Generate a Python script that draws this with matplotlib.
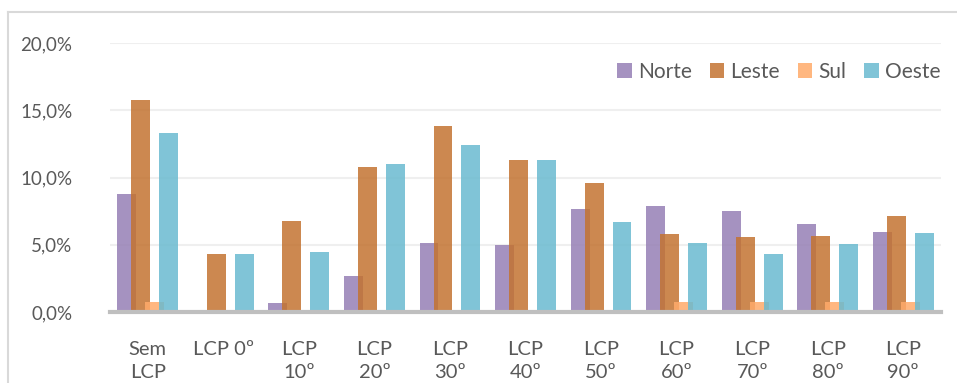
import numpy as np
import matplotlib.pyplot as plt
from matplotlib.lines import Line2D
from matplotlib.ticker import FuncFormatter

plt.rcParams['font.family'] = ['Lato', 'DejaVu Sans']

categorias = ['Sem\nLCP', 'LCP 0º', 'LCP\n10º', 'LCP\n20º', 'LCP\n30º', 'LCP\n40º',
              'LCP\n50º', 'LCP\n60º', 'LCP\n70º', 'LCP\n80º', 'LCP\n90º']
norte = [8.75, 0.0, 0.70, 2.70, 5.10, 5.00, 7.64, 7.90, 7.53, 6.55, 5.98]
leste = [15.75, 4.32, 6.79, 10.80, 13.81, 11.27, 9.62, 5.80, 5.57, 5.62, 7.17]
sul = [0.74, 0.0, 0.0, 0.0, 0.0, 0.0, 0.0, 0.73, 0.73, 0.73, 0.73]
oeste = [13.33, 4.32, 4.43, 10.98, 12.41, 11.27, 6.68, 5.15, 4.34, 5.09, 5.90]

series = [('Norte', norte, '#967fb5'), ('Leste', leste, '#c37331'),
          ('Sul', sul, '#ffab6a'), ('Oeste', oeste, '#6abad0')]

cinza_txt = '#595959'

fig = plt.figure(figsize=(9.57, 3.83), dpi=100)
ax = fig.add_axes([110 / 957, 1 - 312 / 383, 831 / 957, 269 / 383])

x = np.arange(len(categorias))
largura = 0.25
passo = 0.185
for i, (nome, vals, cor) in enumerate(series):
    ax.bar(x + (i - 1.5) * passo, vals, width=largura, color=cor, alpha=0.85,
           label=nome, zorder=3 + i, linewidth=0)

ax.set_xlim(-0.5, len(categorias) - 0.5)
ax.set_ylim(0, 20)
ax.set_yticks([0, 5, 10, 15, 20])
ax.yaxis.set_major_formatter(FuncFormatter(lambda v, p: f'{v:.1f}%'.replace('.', ',')))
ax.grid(axis='y', color='#efefef', linewidth=1.5, zorder=0)
ax.set_axisbelow(True)

for s in ['top', 'right', 'left']:
    ax.spines[s].set_visible(False)
ax.spines['bottom'].set_color('#bfbfbf')
ax.spines['bottom'].set_linewidth(3)
ax.spines['bottom'].set_zorder(10)

ax.set_xticks(x)
ax.set_xticklabels(categorias, fontsize=14.5, color=cinza_txt, linespacing=1.4, va='top')
ax.tick_params(axis='x', length=0, pad=21)
ax.tick_params(axis='y', length=0, pad=27, labelsize=13.5, labelcolor=cinza_txt)

leg = ax.legend(loc='upper right', ncol=4, frameon=False, fontsize=15,
                bbox_to_anchor=(1.022, 1.0), handlelength=0.7, handleheight=0.7,
                handletextpad=0.3, columnspacing=0.85, labelcolor=cinza_txt)

# moldura do gráfico
borda = '#d9d9d9'
fig.add_artist(Line2D([8 / 957, 1], [1 - 12 / 383] * 2, color=borda, linewidth=1.5,
                      transform=fig.transFigure))
fig.add_artist(Line2D([8 / 957] * 2, [0, 1 - 12 / 383], color=borda, linewidth=1.5,
                      transform=fig.transFigure))

fig.savefig('out.png', dpi=100)
